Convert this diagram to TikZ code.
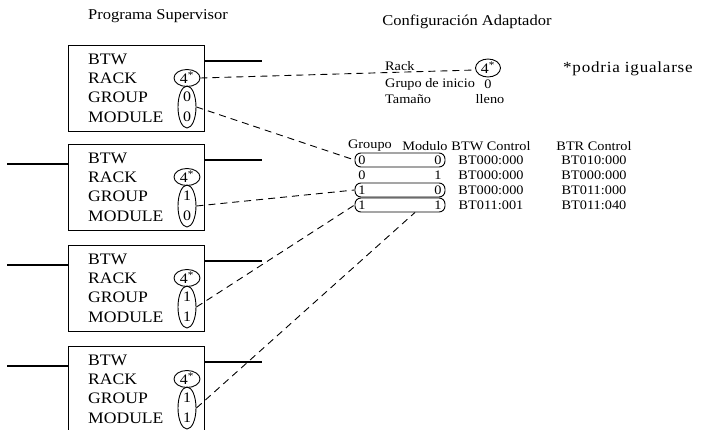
\documentclass[tikz,border=0pt]{standalone}
\usepackage{fontspec}
\setmainfont{Liberation Serif}[FakeStretch=1.1]
\usetikzlibrary{calc,shapes.geometric}
\begin{document}
\begin{tikzpicture}[x=1pt,y=-1pt,
 box/.style={draw,line width=1.3pt,minimum width=136pt,minimum height=86pt,inner sep=0,anchor=north west},
 lbl/.style={inner sep=0,anchor=west,font=\fontsize{16}{18}\selectfont},
 sm/.style={inner sep=0,font=\fontsize{13}{15}\selectfont},
 mid/.style={inner sep=0,font=\fontsize{14.5}{16}\selectfont},
 ttl/.style={inner sep=0,font=\fontsize{15}{17}\selectfont},
 ring/.style={draw,ellipse,line width=0.9pt,inner sep=0},
 dsh/.style={line width=0.9pt,dash pattern=on 7pt off 5pt},
 wire/.style={line width=1.3pt},
 capsule/.style={draw,line width=0.9pt,rounded corners=6pt,minimum width=90pt,minimum height=14pt,inner sep=0}]
\useasboundingbox (0,0) rectangle (710,430);
\clip (0,0) rectangle (710,430);
% titles
\node[ttl] (ps) at (158,16) {Programa Supervisor};
\node[ttl] (ca) at (467,22) {Configuración Adaptador};
% boxes
\foreach \i/\t/\g/\m in {1/45/0/0,2/144/1/0,3/245/1/1,4/346/1/1}{
  \node[box] (b\i) at (68,\t) {};
  \node[lbl] (btw\i) at (88,\t+14) {BTW};
  \node[lbl] (rack\i) at (88,\t+33) {RACK};
  \node[lbl] (grp\i) at (88,\t+52) {GROUP};
  \node[lbl] (mod\i) at (88,\t+72) {MODULE};
  \node[ring,minimum width=26pt,minimum height=17pt] (r\i) at (187,\t+33) {};
  \node[mid] (rv\i) at (187,\t+33) {4\textsuperscript{*}};
  \node[ring,minimum width=18pt,minimum height=42pt] (gm\i) at (187,\t+62) {};
  \node[mid] (gv\i) at (187,\t+52) {\g};
  \node[mid] (mv\i) at (187,\t+72) {\m};
  \coordinate (ro\i) at (262,\t+16);
  \draw[wire] (b\i.east |- ro\i) -- (ro\i);
  \ifnum\i>1
    \coordinate (lo\i) at (7,\t+20);
    \draw[wire] (lo\i) -- (lo\i -| b\i.west);
  \fi
}
% adapter configuration
\node[sm,anchor=west] (rack) at (385,66) {Rack};
\node[ring,minimum width=25pt,minimum height=18pt] (rk) at (488,68) {};
\node[mid] (rkv) at (488,68) {4\textsuperscript{*}};
\node[sm,anchor=west] (gi) at (385,84) {Grupo de inicio};
\node[sm] (giv) at (488,84) {0};
\node[sm,anchor=west] (tam) at (385,99) {Tamaño};
\node[sm] (tamv) at (490,99) {lleno};
\node[anchor=west,inner sep=0,font=\fontsize{15.5}{17}\selectfont\addfontfeature{LetterSpace=5}] (pod) at (563,69) {*podria igualarse};
% table
\node[sm] (hg) at (370,146) {Groupo};
\node[sm] (hm) at (425,146) {Modulo};
\node[sm] (hbtw) at (491,146) {BTW Control};
\node[sm] (hbtr) at (594,146) {BTR Control};
\foreach \j/\y/\g/\m/\w/\r in {1/160/0/0/BT000:000/BT010:000,2/175/0/1/BT000:000/BT000:000,3/190/1/0/BT000:000/BT011:000,4/205/1/1/BT011:001/BT011:040}{
  \node[sm] (tg\j) at (362,\y) {\g};
  \node[sm] (tm\j) at (438,\y) {\m};
  \node[sm] (tw\j) at (491,\y) {\w};
  \node[sm] (tr\j) at (594,\y) {\r};
}
\node[capsule] (cap1) at (400,160) {};
\node[capsule] (cap3) at (400,190) {};
\node[capsule] (cap4) at (400,205) {};
% dashed connectors
\draw[dsh] (r1.east) -- ([yshift=-2pt]rk.west);
\draw[dsh] (gm1.east) -- (cap1.west);
\draw[dsh] (gm2.east) -- (cap3.west);
\draw[dsh] (gm3.east) -- (cap4.west);
\draw[dsh] (gm4.east) -- ([xshift=15pt]cap4.south);
\end{tikzpicture}
\end{document}
